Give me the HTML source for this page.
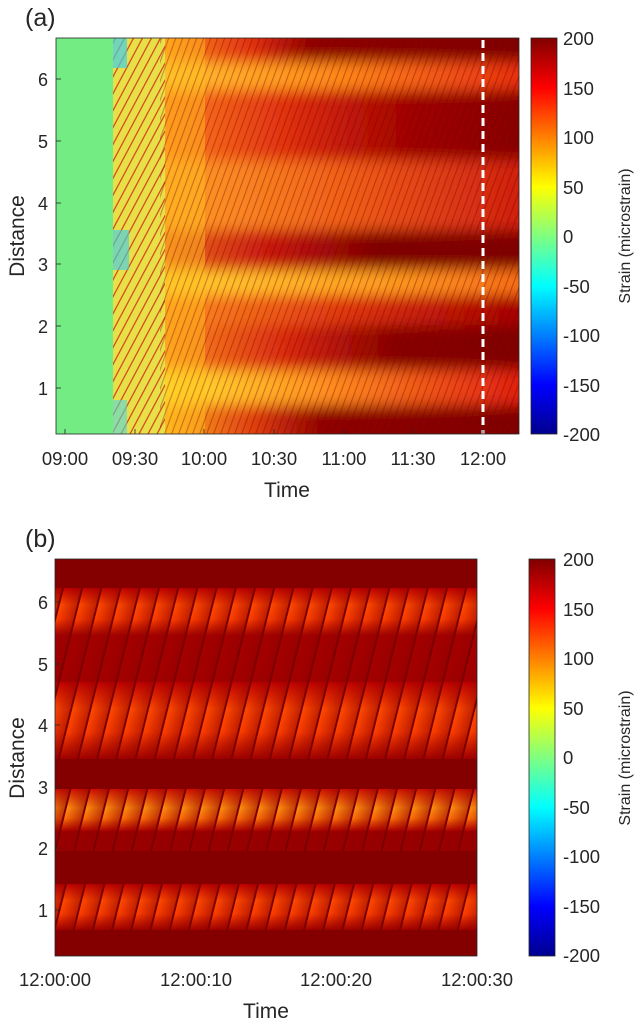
<!DOCTYPE html>
<html><head><meta charset="utf-8"><style>
html,body{margin:0;padding:0;background:#fff}
svg{display:block}
text{font-family:"Liberation Sans",Arial,sans-serif;fill:#262626}
</style></head><body>
<svg width="642" height="1024" viewBox="0 0 642 1024">
<defs>
<linearGradient id="jet" x1="0" y1="1" x2="0" y2="0">
<stop offset="0" stop-color="#00008f"/><stop offset="0.125" stop-color="#0000ff"/>
<stop offset="0.375" stop-color="#00ffff"/><stop offset="0.5" stop-color="#80ff80"/>
<stop offset="0.625" stop-color="#ffff00"/><stop offset="0.875" stop-color="#ff0000"/>
<stop offset="1" stop-color="#800000"/></linearGradient>
<clipPath id="cpA"><rect x="56" y="38" width="463" height="396"/></clipPath>
<filter id="bl" filterUnits="userSpaceOnUse" x="100" y="0" width="480" height="480"><feGaussianBlur stdDeviation="3 7"/></filter>
<linearGradient id="g1" gradientUnits="userSpaceOnUse" x1="165" x2="519"><stop offset="0" stop-color="#ff9020"/><stop offset="0.25" stop-color="#e03010"/><stop offset="0.42" stop-color="#900000"/><stop offset="1" stop-color="#800000"/></linearGradient>
<linearGradient id="g2" gradientUnits="userSpaceOnUse" x1="165" x2="519"><stop offset="0" stop-color="#ffc030"/><stop offset="0.5" stop-color="#ff8818"/><stop offset="1" stop-color="#e83010"/></linearGradient>
<linearGradient id="g3" gradientUnits="userSpaceOnUse" x1="165" x2="519"><stop offset="0" stop-color="#ff8020"/><stop offset="0.35" stop-color="#e03010"/><stop offset="0.7" stop-color="#a00000"/><stop offset="1" stop-color="#880000"/></linearGradient>
<linearGradient id="g4" gradientUnits="userSpaceOnUse" x1="165" x2="519"><stop offset="0" stop-color="#ffa028"/><stop offset="0.5" stop-color="#f06018"/><stop offset="1" stop-color="#d02010"/></linearGradient>
<linearGradient id="g5" gradientUnits="userSpaceOnUse" x1="165" x2="519"><stop offset="0" stop-color="#f07020"/><stop offset="0.3" stop-color="#c81810"/><stop offset="0.6" stop-color="#800000"/><stop offset="1" stop-color="#800000"/></linearGradient>
<linearGradient id="g6" gradientUnits="userSpaceOnUse" x1="165" x2="519"><stop offset="0" stop-color="#ffd030"/><stop offset="0.6" stop-color="#ffa020"/><stop offset="1" stop-color="#f87018"/></linearGradient>
<linearGradient id="g7" gradientUnits="userSpaceOnUse" x1="165" x2="519"><stop offset="0" stop-color="#ff9020"/><stop offset="0.5" stop-color="#e03810"/><stop offset="1" stop-color="#a80000"/></linearGradient>
<linearGradient id="g8" gradientUnits="userSpaceOnUse" x1="165" x2="519"><stop offset="0" stop-color="#ff9020"/><stop offset="0.35" stop-color="#d82810"/><stop offset="0.65" stop-color="#880000"/><stop offset="1" stop-color="#800000"/></linearGradient>
<linearGradient id="g9" gradientUnits="userSpaceOnUse" x1="165" x2="519"><stop offset="0" stop-color="#ffe030"/><stop offset="0.45" stop-color="#ff9020"/><stop offset="1" stop-color="#e02010"/></linearGradient>
<linearGradient id="g10" gradientUnits="userSpaceOnUse" x1="165" x2="519"><stop offset="0" stop-color="#ffb020"/><stop offset="0.25" stop-color="#e04010"/><stop offset="0.45" stop-color="#900000"/><stop offset="1" stop-color="#800000"/></linearGradient>
<pattern id="diagA" width="7" height="40" patternUnits="userSpaceOnUse" patternTransform="skewX(-20)">
<rect x="0" y="0" width="1.2" height="40" fill="#700000" opacity="0.5"/></pattern>
<pattern id="diagL" width="9" height="40" patternUnits="userSpaceOnUse" patternTransform="skewX(-28)">
<rect x="0" y="0" width="1.5" height="40" fill="#d02010" opacity="0.75"/></pattern>
<linearGradient id="bandB" x1="0" y1="0" x2="0" y2="1">
<stop offset="0" stop-color="#c00000"/><stop offset="0.35" stop-color="#ff4a00"/>
<stop offset="0.65" stop-color="#ff4000"/><stop offset="1" stop-color="#a00000"/></linearGradient>
<linearGradient id="bandY" x1="0" y1="0" x2="0" y2="1">
<stop offset="0" stop-color="#d01000"/><stop offset="0.45" stop-color="#ff9010"/>
<stop offset="0.7" stop-color="#ff7008"/><stop offset="1" stop-color="#b00000"/></linearGradient>
<linearGradient id="tile" x1="0" x2="1"><stop offset="0" stop-color="#900000" stop-opacity="0"/><stop offset="1" stop-color="#900000" stop-opacity="0.55"/></linearGradient>
<pattern id="diagB" width="19.2" height="60" patternUnits="userSpaceOnUse" patternTransform="translate(55,0) skewX(-14)">
<rect x="2" y="0" width="17.2" height="60" fill="url(#tile)"/>
<rect x="0" y="0" width="2" height="60" fill="#7a0000"/></pattern>
</defs>

<!-- Panel a -->
<text x="25" y="26" font-size="25">(a)</text>
<rect x="56" y="38" width="463" height="396" fill="#74ec84"/>
<g clip-path="url(#cpA)">
<g filter="url(#bl)">
<rect x="160" y="20" width="380" height="42" fill="url(#g1)"/>
<rect x="160" y="62" width="380" height="28" fill="url(#g2)"/>
<rect x="160" y="90" width="380" height="70" fill="url(#g3)"/>
<rect x="160" y="160" width="380" height="70" fill="url(#g4)"/>
<rect x="160" y="230" width="380" height="40" fill="url(#g5)"/>
<rect x="160" y="270" width="380" height="25" fill="url(#g6)"/>
<rect x="160" y="295" width="380" height="30" fill="url(#g7)"/>
<rect x="160" y="325" width="380" height="45" fill="url(#g8)"/>
<rect x="160" y="370" width="380" height="35" fill="url(#g9)"/>
<rect x="160" y="405" width="380" height="50" fill="url(#g10)"/>
</g>
<rect x="113" y="38" width="52" height="396" fill="#e8e048"/>
<rect x="113" y="38" width="52" height="396" fill="url(#diagL)"/>
<rect x="165" y="38" width="40" height="396" fill="#ffc020" opacity="0.45"/>
<rect x="113" y="38" width="14" height="30" fill="#40d0e8" opacity="0.7"/>
<rect x="113" y="230" width="16" height="40" fill="#40d0e8" opacity="0.65"/>
<rect x="113" y="400" width="14" height="34" fill="#50d8e0" opacity="0.6"/>
<rect x="160" y="38" width="359" height="396" fill="url(#diagA)" opacity="0.7"/>
</g>
<line x1="483" y1="40" x2="483" y2="434" stroke="#fff" stroke-width="3" stroke-dasharray="8,5"/>
<rect x="56" y="38" width="463" height="396" fill="none" stroke="#262626" stroke-width="0.8"/>
<g stroke="#262626" stroke-width="0.8">
<line x1="56" y1="388" x2="61" y2="388"/><line x1="56" y1="326" x2="61" y2="326"/><line x1="56" y1="264" x2="61" y2="264"/><line x1="56" y1="203" x2="61" y2="203"/><line x1="56" y1="141" x2="61" y2="141"/><line x1="56" y1="79" x2="61" y2="79"/>
<line x1="65" y1="434" x2="65" y2="429"/><line x1="135" y1="434" x2="135" y2="429"/><line x1="204" y1="434" x2="204" y2="429"/><line x1="274" y1="434" x2="274" y2="429"/><line x1="344" y1="434" x2="344" y2="429"/><line x1="413" y1="434" x2="413" y2="429"/><line x1="483" y1="434" x2="483" y2="429"/>
</g>
<g font-size="18" text-anchor="end">
<text x="48" y="395">1</text><text x="48" y="333">2</text><text x="48" y="271">3</text><text x="48" y="210">4</text><text x="48" y="148">5</text><text x="48" y="86">6</text></g>
<g font-size="18.5" text-anchor="middle">
<text x="65" y="465">09:00</text><text x="135" y="465">09:30</text><text x="204" y="465">10:00</text><text x="274" y="465">10:30</text><text x="344" y="465">11:00</text><text x="413" y="465">11:30</text><text x="483" y="465">12:00</text></g>
<text x="287" y="497" font-size="21" text-anchor="middle">Time</text>
<text transform="translate(24,236) rotate(-90)" font-size="21" text-anchor="middle">Distance</text>
<rect x="531" y="38" width="26" height="396" fill="url(#jet)" stroke="#262626" stroke-width="0.8"/>
<g font-size="18.5">
<text x="563" y="45">200</text><text x="563" y="95">150</text><text x="563" y="144">100</text><text x="563" y="194">50</text><text x="563" y="243">0</text><text x="563" y="293">-50</text><text x="563" y="342">-100</text><text x="563" y="392">-150</text><text x="563" y="441">-200</text></g>
<text transform="translate(630,236) rotate(-90)" font-size="16" text-anchor="middle">Strain (microstrain)</text>

<!-- Panel b -->
<text x="25" y="547" font-size="25">(b)</text>
<rect x="55" y="559" width="422" height="397" fill="#840000"/>
<rect x="55" y="588" width="422" height="48" fill="url(#bandB)"/>
<rect x="55" y="682" width="422" height="77" fill="url(#bandB)"/>
<rect x="55" y="789" width="422" height="42" fill="url(#bandY)"/>
<rect x="55" y="884" width="422" height="46" fill="url(#bandB)"/>
<rect x="55" y="636" width="422" height="46" fill="#a80000" opacity="0.9"/>
<rect x="55" y="831" width="422" height="20" fill="#a00000" opacity="0.8"/>
<g fill="url(#diagB)">
<rect x="55" y="588" width="422" height="94"/>
<rect x="55" y="682" width="422" height="77"/>
<rect x="55" y="789" width="422" height="62"/>
<rect x="55" y="884" width="422" height="46"/></g>
<rect x="55" y="559" width="422" height="397" fill="none" stroke="#262626" stroke-width="0.8"/>
<g stroke="#262626" stroke-width="0.8">
<line x1="55" y1="910" x2="60" y2="910"/><line x1="55" y1="848" x2="60" y2="848"/><line x1="55" y1="787" x2="60" y2="787"/><line x1="55" y1="725" x2="60" y2="725"/><line x1="55" y1="664" x2="60" y2="664"/><line x1="55" y1="602" x2="60" y2="602"/></g>
<g font-size="18" text-anchor="end">
<text x="48" y="917">1</text><text x="48" y="855">2</text><text x="48" y="794">3</text><text x="48" y="732">4</text><text x="48" y="671">5</text><text x="48" y="609">6</text></g>
<g font-size="18.5" text-anchor="middle">
<text x="55" y="986">12:00:00</text><text x="196" y="986">12:00:10</text><text x="336" y="986">12:00:20</text><text x="477" y="986">12:00:30</text></g>
<text x="266" y="1018" font-size="21" text-anchor="middle">Time</text>
<text transform="translate(24,758) rotate(-90)" font-size="21" text-anchor="middle">Distance</text>
<rect x="529" y="559" width="26" height="397" fill="url(#jet)" stroke="#262626" stroke-width="0.8"/>
<g font-size="18.5">
<text x="563" y="566">200</text><text x="563" y="616">150</text><text x="563" y="665">100</text><text x="563" y="715">50</text><text x="563" y="764">0</text><text x="563" y="814">-50</text><text x="563" y="863">-100</text><text x="563" y="913">-150</text><text x="563" y="962">-200</text></g>
<text transform="translate(630,758) rotate(-90)" font-size="16" text-anchor="middle">Strain (microstrain)</text>
</svg>
</body></html>
